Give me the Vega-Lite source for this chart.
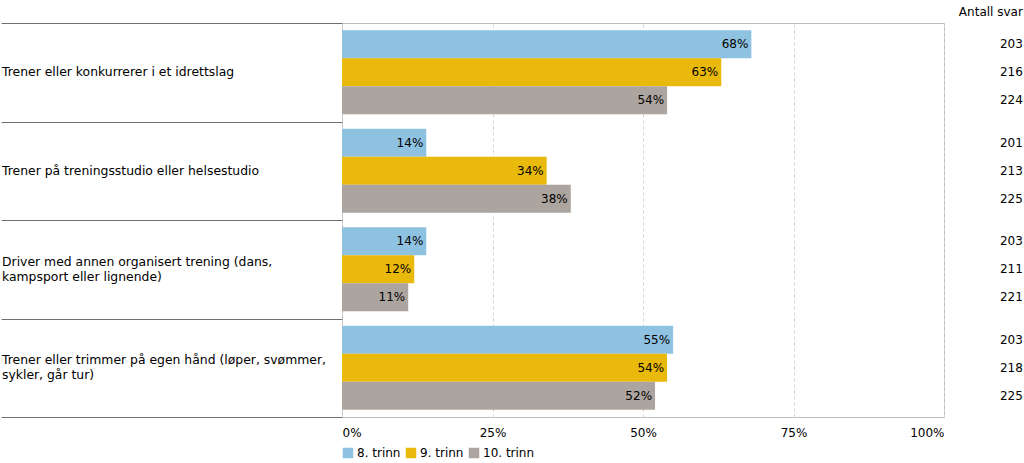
{
  "$schema": "https://vega.github.io/schema/vega-lite/v6.json",
  "width": 602,
  "height": 394,
  "padding": {"left": 0, "top": 5, "right": 2, "bottom": 0},
  "title": {"text": "Antall svar", "anchor": "end", "frame": "bounds", "fontSize": 12, "fontWeight": "normal", "font": "DejaVu Sans", "color": "#000000", "offset": 4},
  "config": {
    "font": "DejaVu Sans",
    "view": {"stroke": "#bdbdbd"},
    "axis": {"labelFont": "DejaVu Sans", "labelFontSize": 12, "labelColor": "#000000"},
    "legend": {"labelFont": "DejaVu Sans", "labelFontSize": 12, "labelColor": "#000000"}
  },
  "datasets": {
    "bars": [
      {"cat": "Trener eller konkurrerer i et idrettslag", "grade": "8. trinn", "pct": 0.68, "n": 203},
      {"cat": "Trener eller konkurrerer i et idrettslag", "grade": "9. trinn", "pct": 0.63, "n": 216},
      {"cat": "Trener eller konkurrerer i et idrettslag", "grade": "10. trinn", "pct": 0.54, "n": 224},
      {"cat": "Trener på treningsstudio eller helsestudio", "grade": "8. trinn", "pct": 0.14, "n": 201},
      {"cat": "Trener på treningsstudio eller helsestudio", "grade": "9. trinn", "pct": 0.34, "n": 213},
      {"cat": "Trener på treningsstudio eller helsestudio", "grade": "10. trinn", "pct": 0.38, "n": 225},
      {"cat": "Driver med annen organisert trening (dans, kampsport eller lignende)", "grade": "8. trinn", "pct": 0.14, "n": 203},
      {"cat": "Driver med annen organisert trening (dans, kampsport eller lignende)", "grade": "9. trinn", "pct": 0.12, "n": 211},
      {"cat": "Driver med annen organisert trening (dans, kampsport eller lignende)", "grade": "10. trinn", "pct": 0.11, "n": 221},
      {"cat": "Trener eller trimmer på egen hånd (løper, svømmer, sykler, går tur)", "grade": "8. trinn", "pct": 0.55, "n": 203},
      {"cat": "Trener eller trimmer på egen hånd (løper, svømmer, sykler, går tur)", "grade": "9. trinn", "pct": 0.54, "n": 218},
      {"cat": "Trener eller trimmer på egen hånd (løper, svømmer, sykler, går tur)", "grade": "10. trinn", "pct": 0.52, "n": 225}
    ],
    "singleLine": [
      {"cat": "Trener eller konkurrerer i et idrettslag", "label": "Trener eller konkurrerer i et idrettslag"},
      {"cat": "Trener på treningsstudio eller helsestudio", "label": "Trener på treningsstudio eller helsestudio"}
    ],
    "twoLines": [
      {"cat": "Driver med annen organisert trening (dans, kampsport eller lignende)", "label": ["Driver med annen organisert trening (dans,", "kampsport eller lignende)"]},
      {"cat": "Trener eller trimmer på egen hånd (løper, svømmer, sykler, går tur)", "label": ["Trener eller trimmer på egen hånd (løper, svømmer,", "sykler, går tur)"]}
    ]
  },
  "data": {"name": "bars"},
  "encoding": {
    "y": {
      "field": "cat", "type": "nominal", "sort": null,
      "scale": {"paddingInner": 0, "paddingOuter": 0},
      "axis": {
        "title": null, "domain": false, "ticks": true, "tickBand": "extent",
        "tickSize": 341, "tickColor": "#707070", "tickWidth": 1, "labels": false
      }
    }
  },
  "layer": [
    {
      "mark": {"type": "bar"},
      "encoding": {
        "yOffset": {
          "field": "grade", "type": "nominal", "sort": ["8. trinn", "9. trinn", "10. trinn"],
          "scale": {"paddingInner": 0, "paddingOuter": 0.26}
        },
        "x": {
          "field": "pct", "type": "quantitative",
          "scale": {"domain": [0, 1], "nice": false, "zero": true},
          "axis": {
            "title": null, "values": [0, 0.25, 0.5, 0.75, 1], "format": ".0%",
            "grid": true, "gridDash": [3, 3], "gridColor": "#d4d4d4",
            "ticks": false, "domain": false, "labelFlush": true, "labelPadding": 10
          }
        },
        "color": {
          "field": "grade", "type": "nominal", "sort": ["8. trinn", "9. trinn", "10. trinn"],
          "scale": {"domain": ["8. trinn", "9. trinn", "10. trinn"], "range": ["#8fc2e0", "#e9b90b", "#aca49e"]},
          "legend": {
            "title": null, "orient": "bottom", "direction": "horizontal",
            "symbolType": "square", "symbolSize": 110, "symbolStrokeWidth": 0,
            "columnPadding": 4, "labelOffset": 3, "offset": 9, "padding": 0
          }
        }
      }
    },
    {
      "mark": {"type": "text", "align": "right", "dx": -3, "baseline": "middle", "fontSize": 12, "color": "#000000"},
      "encoding": {
        "yOffset": {"field": "grade", "type": "nominal", "sort": ["8. trinn", "9. trinn", "10. trinn"]},
        "x": {"field": "pct", "type": "quantitative"},
        "text": {"field": "pct", "type": "quantitative", "format": ".0%"}
      }
    },
    {
      "mark": {"type": "text", "align": "right", "baseline": "middle", "fontSize": 12, "color": "#000000"},
      "encoding": {
        "yOffset": {"field": "grade", "type": "nominal", "sort": ["8. trinn", "9. trinn", "10. trinn"]},
        "x": {"datum": 1.131, "type": "quantitative"},
        "text": {"field": "n", "type": "quantitative"}
      }
    },
    {
      "data": {"name": "singleLine"},
      "mark": {"type": "text", "align": "left", "baseline": "middle", "fontSize": 12.4, "color": "#000000"},
      "encoding": {
        "x": {"datum": -0.5648, "type": "quantitative"},
        "text": {"field": "label"}
      }
    },
    {
      "data": {"name": "twoLines"},
      "mark": {"type": "text", "align": "left", "baseline": "middle", "dy": -7.5, "lineHeight": 15, "fontSize": 12.4, "color": "#000000"},
      "encoding": {
        "x": {"datum": -0.5648, "type": "quantitative"},
        "text": {"field": "label"}
      }
    }
  ]
}
